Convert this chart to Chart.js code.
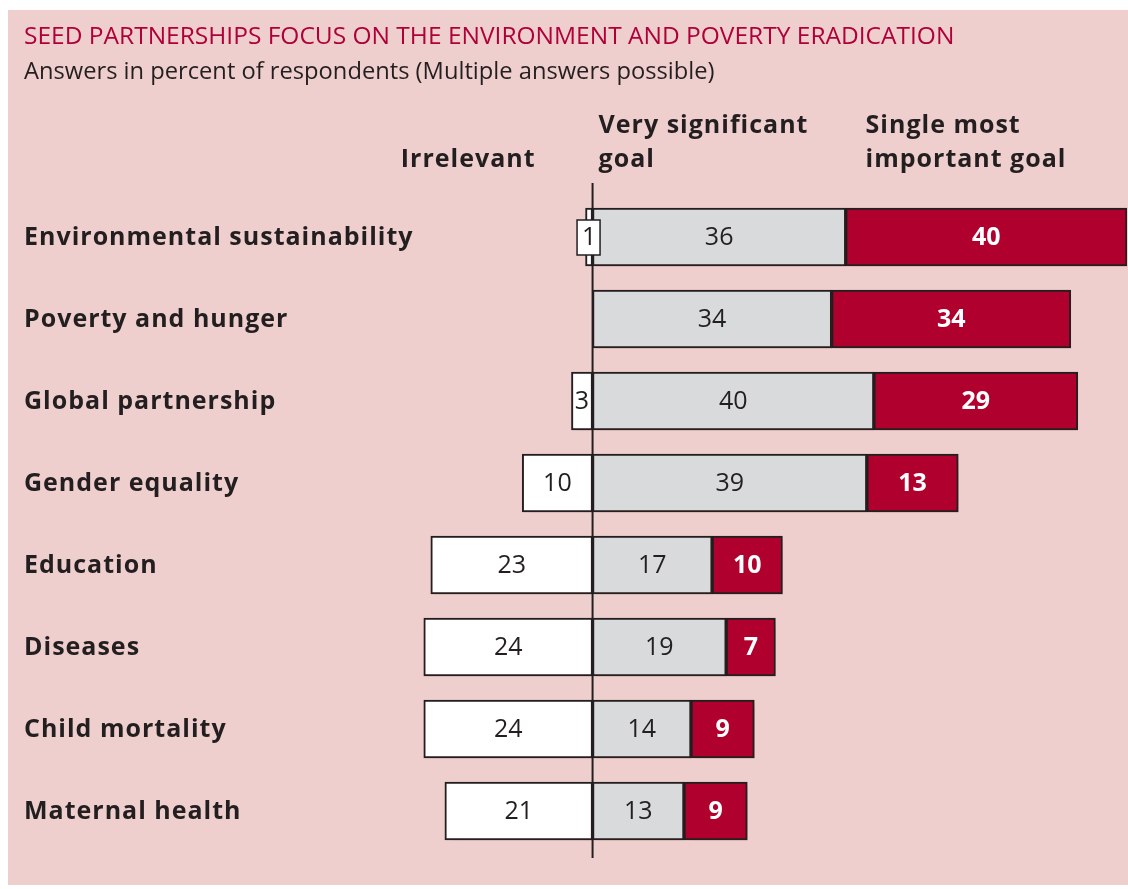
<!DOCTYPE html>
<html>
<head>
<meta charset="utf-8">
<script src="https://cdn.jsdelivr.net/npm/chart.js@4/dist/chart.umd.min.js"></script>
<style>
  html, body { margin: 0; padding: 0; background: #fff; }
  canvas { display: block; }
</style>
</head>
<body>
<canvas id="graph" width="1128" height="889"></canvas>
<script>
const categories = [
  "Environmental sustainability",
  "Poverty and hunger",
  "Global partnership",
  "Gender equality",
  "Education",
  "Diseases",
  "Child mortality",
  "Maternal health",
];
// percent of respondents, null = no answer in that group
const irrelevant = [1, null, 3, 10, 23, 24, 24, 21];
const verySignificant = [36, 34, 40, 39, 17, 19, 14, 13];
const singleMost = [40, 34, 29, 13, 10, 7, 9, 9];

const titulo = "SEED PARTNERSHIPS FOCUS ON THE ENVIRONMENT AND POVERTY ERADICATION";
const subtitulo = "Answers in percent of respondents (Multiple answers possible)";

const FONTE = "'Open Sans', sans-serif";
const ESCURO = "#231f20";

// fundo rosa + textos do cabeçalho
const fundo = {
  id: "fundo",
  beforeDraw(chart) {
    const c = chart.ctx;
    const x0 = chart.scales.x.getPixelForValue(0);
    c.save();
    c.fillStyle = "#efcfcd";
    c.fillRect(8, 10, chart.width - 8, 875);

    c.textBaseline = "middle";
    c.textAlign = "left";
    c.fillStyle = "#b0003a";
    c.font = "24.5px " + FONTE;
    c.fillText(titulo, 24, 37);
    c.fillStyle = ESCURO;
    c.font = "23.7px " + FONTE;
    c.fillText(subtitulo, 24, 72);

    c.font = "bold 25px " + FONTE;
    c.letterSpacing = "1px";
    c.textAlign = "right";
    c.fillText("Irrelevant", x0 - 57, 160);
    c.textAlign = "left";
    c.fillText("Very significant", x0 + 6, 126);
    c.fillText("goal", x0 + 6, 160);
    c.fillText("Single most", x0 + 273, 126);
    c.fillText("important goal", x0 + 273, 160);

    // nomes das categorias
    const y = chart.scales.y;
    categories.forEach((nome, i) => {
      c.fillText(nome, 24, y.getPixelForValue(i) + 1);
    });
    c.restore();
  },
};

// sombra suave atrás das barras
const sombra = {
  id: "sombra",
  beforeDatasetsDraw(chart) {
    const c = chart.ctx;
    c.save();
    c.shadowColor = "rgba(60,30,30,0.35)";
    c.shadowBlur = 9;
    c.shadowOffsetX = 4;
    c.shadowOffsetY = 5;
  },
  afterDatasetsDraw(chart) {
    chart.ctx.restore();
  },
};

// linha do zero + números dentro das barras
const rotulos = {
  id: "rotulos",
  afterDatasetsDraw(chart) {
    const c = chart.ctx;
    const x0 = chart.scales.x.getPixelForValue(0);
    const area = chart.chartArea;
    c.save();
    c.strokeStyle = ESCURO;
    c.lineWidth = 2;
    c.beginPath();
    c.moveTo(x0, area.top - 13);
    c.lineTo(x0, area.bottom + 6);
    c.stroke();

    const fontes = [
      ["25px " + FONTE, ESCURO],
      ["25px " + FONTE, ESCURO],
      ["bold 25px " + FONTE, "#fff"],
    ];
    const fontesDados = [irrelevant, verySignificant, singleMost];
    c.textAlign = "center";
    c.textBaseline = "middle";
    chart.data.datasets.forEach((ds, d) => {
      chart.getDatasetMeta(d).data.forEach((bar, i) => {
        const v = fontesDados[d][i];
        if (v == null) return;
        const txt = String(v);
        const cx = (bar.x + bar.base) / 2;
        const cy = bar.y;
        c.font = fontes[d][0];
        const w = c.measureText(txt).width;
        if (Math.abs(bar.x - bar.base) < w) {
          // barra estreita demais: número numa caixinha
          c.fillStyle = "#fff";
          c.fillRect(cx - 12, cy - 17, 23, 35);
          c.lineWidth = 1.5;
          c.strokeRect(cx - 12, cy - 17, 23, 35);
        }
        c.fillStyle = fontes[d][1];
        c.fillText(txt, cx, cy + 1);
      });
    });
    c.restore();
  },
};

const ctx = document.getElementById("graph").getContext("2d");
new Chart(ctx, {
  type: "bar",
  data: {
    labels: categories,
    datasets: [
      {
        label: "Irrelevant",
        data: irrelevant.map((v) => (v == null ? null : -v)),
        backgroundColor: "#ffffff",
      },
      {
        label: "Very significant goal",
        data: verySignificant,
        backgroundColor: "#d9dadc",
      },
      {
        label: "Single most important goal",
        data: singleMost,
        backgroundColor: "#b0002e",
      },
    ].map((ds) => ({
      ...ds,
      borderColor: ESCURO,
      borderWidth: 2,
      borderSkipped: false,
      barThickness: 58,
    })),
  },
  options: {
    indexAxis: "y",
    responsive: false,
    animation: false,
    devicePixelRatio: 1,
    layout: { padding: { left: 30, right: 1, top: 196, bottom: 37 } },
    plugins: {
      legend: { display: false },
      tooltip: { enabled: false },
    },
    scales: {
      x: { stacked: true, min: -80, max: 76, display: false },
      y: { stacked: true, display: false },
    },
  },
  plugins: [fundo, sombra, rotulos],
});
</script>
</body>
</html>
